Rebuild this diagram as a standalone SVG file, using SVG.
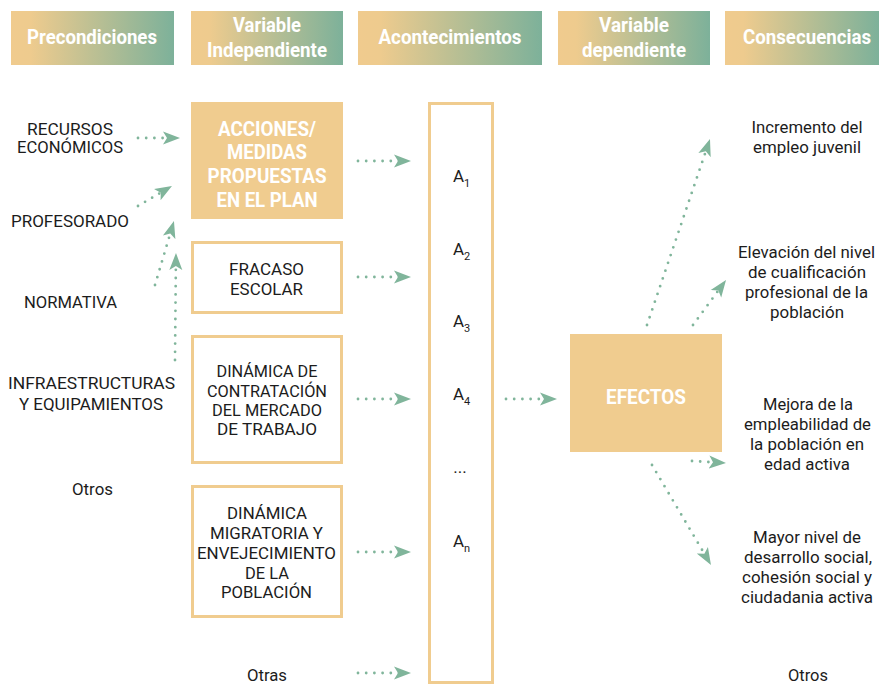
<svg xmlns="http://www.w3.org/2000/svg" width="879" height="685" viewBox="0 0 879 685">
<defs>
<linearGradient id="hg" x1="0" y1="0" x2="1" y2="0">
<stop offset="0" stop-color="#f0cb8e"/>
<stop offset="0.12" stop-color="#eecb8e"/>
<stop offset="1" stop-color="#7db19a"/>
</linearGradient>
<marker id="ah" markerUnits="userSpaceOnUse" markerWidth="20" markerHeight="16" viewBox="0 -8 20 16" refX="8" refY="0" orient="auto">
<path d="M17,0 L0,-6.5 L4,0 L0,6.5Z" fill="#80b59b"/>
</marker>
<style>
.hb{fill:url(#hg);}
.ht{font-family:Roboto,"Liberation Sans",sans-serif;font-weight:700;font-size:21px;fill:#fff;text-anchor:middle;}
.fill{fill:#f0cc8f;}
.box{fill:#fff;stroke:#f0cc8f;stroke-width:3;}
.bt{font-family:Roboto,"Liberation Sans",sans-serif;font-weight:700;font-size:19.5px;fill:#fff;text-anchor:middle;}
.t{font-family:Roboto,"Liberation Sans",sans-serif;font-size:16.5px;fill:#1c1c1c;text-anchor:middle;}
.a{font-family:Roboto,"Liberation Sans",sans-serif;font-size:17px;fill:#1c1c1c;}
.sub{font-size:11px;}
.c{fill:none;stroke:#80b59b;stroke-width:2.8;stroke-linecap:round;stroke-dasharray:0 8.2;marker-end:url(#ah);}
</style>
</defs>
<rect width="879" height="685" fill="#fff"/>

<g id="headers">
<rect class="hb" x="11" y="11" width="163" height="54"/>
<text class="ht" x="92" y="44" textLength="130" lengthAdjust="spacingAndGlyphs">Precondiciones</text>
<rect class="hb" x="191" y="11" width="152" height="54"/>
<text class="ht" x="267" y="32" textLength="68" lengthAdjust="spacingAndGlyphs">Variable</text>
<text class="ht" x="267" y="57" textLength="120" lengthAdjust="spacingAndGlyphs">Independiente</text>
<rect class="hb" x="358" y="11" width="184" height="54"/>
<text class="ht" x="450" y="44" textLength="143" lengthAdjust="spacingAndGlyphs">Acontecimientos</text>
<rect class="hb" x="558" y="11" width="152" height="54"/>
<text class="ht" x="634" y="32" textLength="70" lengthAdjust="spacingAndGlyphs">Variable</text>
<text class="ht" x="634" y="57" textLength="104" lengthAdjust="spacingAndGlyphs">dependiente</text>
<rect class="hb" x="725" y="11" width="154" height="54"/>
<text class="ht" x="807" y="44" font-size="20" textLength="128" lengthAdjust="spacingAndGlyphs">Consecuencias</text>
</g>

<g id="precondiciones">
<text class="t" x="70" y="135" textLength="86" lengthAdjust="spacingAndGlyphs">RECURSOS</text>
<text class="t" x="70" y="153" textLength="106" lengthAdjust="spacingAndGlyphs">ECONÓMICOS</text>
<text class="t" x="70" y="227" textLength="118" lengthAdjust="spacingAndGlyphs">PROFESORADO</text>
<text class="t" x="70.5" y="308" textLength="93" lengthAdjust="spacingAndGlyphs">NORMATIVA</text>
<text class="t" x="91.5" y="389" textLength="167" lengthAdjust="spacingAndGlyphs">INFRAESTRUCTURAS</text>
<text class="t" x="91" y="410" textLength="144" lengthAdjust="spacingAndGlyphs">Y EQUIPAMIENTOS</text>
<text class="t" x="92.5" y="495" textLength="41" lengthAdjust="spacingAndGlyphs">Otros</text>
</g>

<g id="acciones">
<rect class="fill" x="191" y="102" width="152" height="117"/>
<text class="bt" x="267" y="136" textLength="98" lengthAdjust="spacingAndGlyphs">ACCIONES/</text>
<text class="bt" x="267" y="159" textLength="80" lengthAdjust="spacingAndGlyphs">MEDIDAS</text>
<text class="bt" x="267" y="183" textLength="119" lengthAdjust="spacingAndGlyphs">PROPUESTAS</text>
<text class="bt" x="267" y="207" textLength="101" lengthAdjust="spacingAndGlyphs">EN EL PLAN</text>
</g>

<g id="fracaso">
<rect class="box" x="192.5" y="242.5" width="149" height="70"/>
<text class="t" x="266.5" y="275" textLength="75" lengthAdjust="spacingAndGlyphs">FRACASO</text>
<text class="t" x="266.5" y="295" textLength="73" lengthAdjust="spacingAndGlyphs">ESCOLAR</text>
</g>

<g id="contratacion">
<rect class="box" x="192.5" y="336.5" width="149" height="126"/>
<text class="t" x="267" y="377" textLength="101" lengthAdjust="spacingAndGlyphs">DINÁMICA DE</text>
<text class="t" x="267" y="397" textLength="120" lengthAdjust="spacingAndGlyphs">CONTRATACIÓN</text>
<text class="t" x="267" y="416" textLength="110" lengthAdjust="spacingAndGlyphs">DEL MERCADO</text>
<text class="t" x="267" y="435" textLength="100" lengthAdjust="spacingAndGlyphs">DE TRABAJO</text>
</g>

<g id="migratoria">
<rect class="box" x="192.5" y="486.5" width="149" height="130"/>
<text class="t" x="267" y="519" textLength="80" lengthAdjust="spacingAndGlyphs">DINÁMICA</text>
<text class="t" x="266.5" y="539" textLength="113" lengthAdjust="spacingAndGlyphs">MIGRATORIA Y</text>
<text class="t" x="266.5" y="559" textLength="139" lengthAdjust="spacingAndGlyphs">ENVEJECIMIENTO</text>
<text class="t" x="267" y="579" textLength="44" lengthAdjust="spacingAndGlyphs">DE LA</text>
<text class="t" x="266.5" y="598" textLength="91" lengthAdjust="spacingAndGlyphs">POBLACIÓN</text>
</g>

<g id="otras">
<text class="t" x="267" y="681" textLength="40" lengthAdjust="spacingAndGlyphs">Otras</text>
</g>

<g id="acontecimientos">
<rect class="box" x="429.5" y="103.5" width="63" height="579"/>
<text class="a" x="453" y="182">A<tspan class="sub" dy="5">1</tspan></text>
<text class="a" x="453" y="255">A<tspan class="sub" dy="5">2</tspan></text>
<text class="a" x="453" y="327">A<tspan class="sub" dy="5">3</tspan></text>
<text class="a" x="453" y="400">A<tspan class="sub" dy="5">4</tspan></text>
<text class="a" x="460" y="473" text-anchor="middle">...</text>
<text class="a" x="453" y="547">A<tspan class="sub" dy="5">n</tspan></text>
</g>

<g id="efectos">
<rect class="fill" x="570" y="334" width="152" height="118"/>
<text class="bt" x="646" y="404" textLength="80" lengthAdjust="spacingAndGlyphs">EFECTOS</text>
</g>

<g id="consecuencias">
<text class="t" x="807" y="133" textLength="111" lengthAdjust="spacingAndGlyphs">Incremento del</text>
<text class="t" x="807" y="153" textLength="108" lengthAdjust="spacingAndGlyphs">empleo juvenil</text>
<text class="t" x="806.5" y="258" textLength="137" lengthAdjust="spacingAndGlyphs">Elevación del nivel</text>
<text class="t" x="807" y="278" textLength="118" lengthAdjust="spacingAndGlyphs">de cualificación</text>
<text class="t" x="806.5" y="298" textLength="123" lengthAdjust="spacingAndGlyphs">profesional de la</text>
<text class="t" x="807" y="318" textLength="74" lengthAdjust="spacingAndGlyphs">población</text>
<text class="t" x="808" y="410" textLength="90" lengthAdjust="spacingAndGlyphs">Mejora de la</text>
<text class="t" x="807.5" y="430" textLength="127" lengthAdjust="spacingAndGlyphs">empleabilidad de</text>
<text class="t" x="807" y="450" textLength="114" lengthAdjust="spacingAndGlyphs">la población en</text>
<text class="t" x="807" y="470" textLength="86" lengthAdjust="spacingAndGlyphs">edad activa</text>
<text class="t" x="807" y="543" textLength="108" lengthAdjust="spacingAndGlyphs">Mayor nivel de</text>
<text class="t" x="808" y="563" textLength="128" lengthAdjust="spacingAndGlyphs">desarrollo social,</text>
<text class="t" x="807" y="583" textLength="130" lengthAdjust="spacingAndGlyphs">cohesión social y</text>
<text class="t" x="807" y="603" textLength="132" lengthAdjust="spacingAndGlyphs">ciudadania activa</text>
<text class="t" x="808" y="681" textLength="40" lengthAdjust="spacingAndGlyphs">Otros</text>
</g>

<g id="connectors">
<line class="c" x1="138" y1="138" x2="171" y2="138"/>
<line class="c" x1="138" y1="206" x2="164.2" y2="190.6"/>
<line class="c" x1="155" y1="285" x2="171.4" y2="229.6"/>
<line class="c" x1="175" y1="360" x2="175.9" y2="262"/>
<line class="c" x1="358" y1="161" x2="402" y2="161"/>
<line class="c" x1="358" y1="277" x2="402" y2="277"/>
<line class="c" x1="358" y1="399" x2="402" y2="399"/>
<line class="c" x1="358" y1="552" x2="402" y2="552"/>
<line class="c" x1="358" y1="673" x2="402" y2="673"/>
<line class="c" x1="506" y1="399" x2="548" y2="399"/>
<line class="c" x1="647" y1="325" x2="707.1" y2="147.5"/>
<line class="c" x1="693" y1="325" x2="720.7" y2="287.3"/>
<line class="c" x1="692" y1="461" x2="717" y2="462.5"/>
<line class="c" x1="652" y1="465" x2="706.4" y2="557.2"/>
</g>
</svg>
